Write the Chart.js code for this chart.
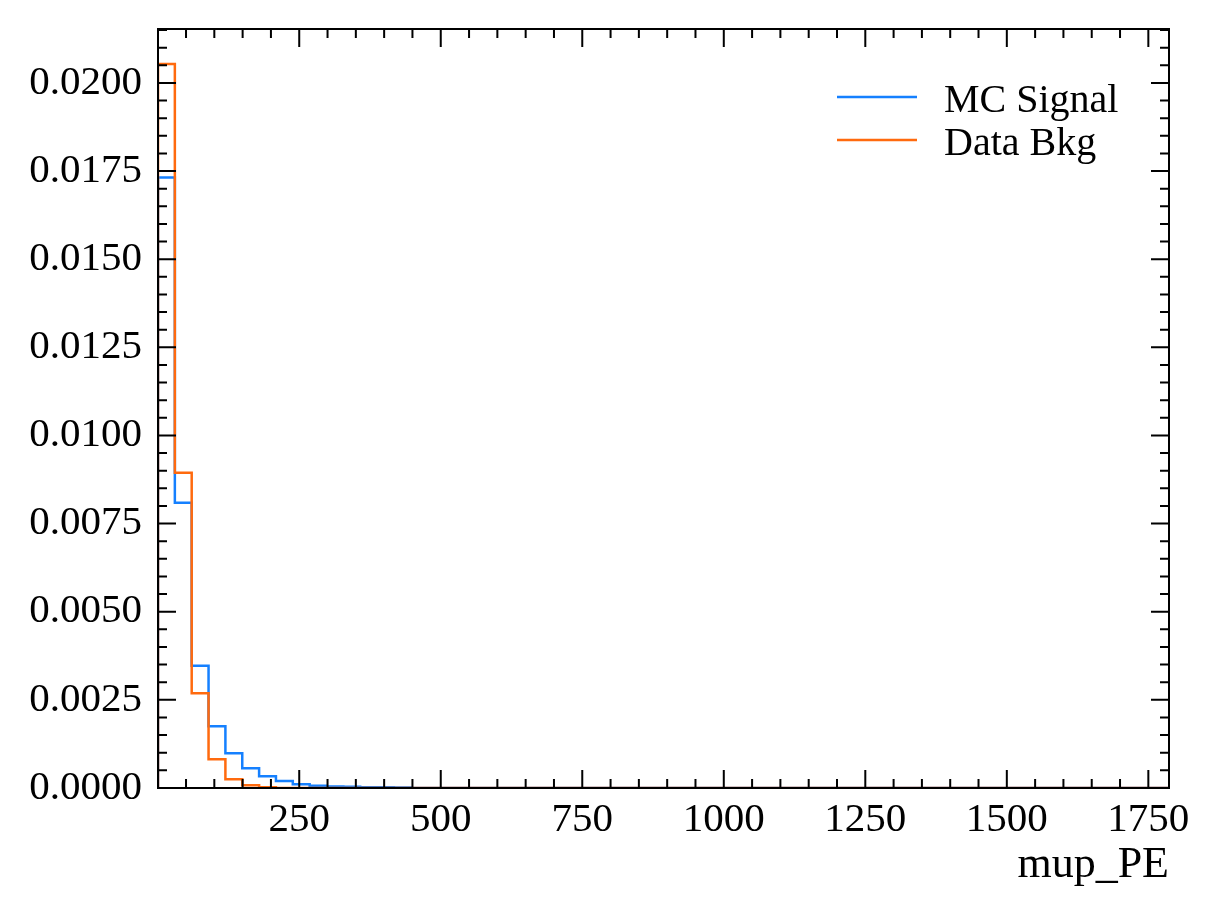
<!DOCTYPE html>
<html>
<head>
<meta charset="utf-8">
<script src="https://cdn.jsdelivr.net/npm/chart.js@4.4.1/dist/chart.umd.min.js"></script>
<style>
  html, body { margin: 0; padding: 0; background: #fff; }
  #wrap { width: 1218px; height: 917px; }
</style>
</head>
<body>
<div id="wrap"><canvas id="chart" width="1218" height="917"></canvas></div>
<script>
// histogram binning (60 bins over the data range)
const xMin = 0.5;
const xMax = 1786.5;
const nBins = 60;
const yMax = 0.02153;

const seriesLabels = ['MC Signal', 'Data Bkg'];
const seriesColors = ['#1580ff', '#ff6a0e'];

// normalised counts per bin (bins not listed are 0)
const mcSignal = [0.01732, 0.00809, 0.003466, 0.00175, 0.000985, 0.00056, 0.00033, 0.0002,
  0.000105, 0.000065, 0.00004, 0.000035, 0.00002, 0.00002, 0.000015];
const dataBkg = [0.02054, 0.00894, 0.00269, 0.000815, 0.000247, 0.000077, 0.00002];

const xMajorTicks = [250, 500, 750, 1000, 1250, 1500, 1750];
const yMajorStep = 0.0025;
const xMinorStep = 50;
const yMinorStep = 0.0005;

const serif = 'Liberation Serif';

function stepPoints(values) {
  const w = (xMax - xMin) / nBins;
  const pts = [{ x: xMin, y: 0 }];
  for (let i = 0; i < nBins; i++) {
    pts.push({ x: xMin + i * w, y: values[i] || 0 });
  }
  pts.push({ x: xMax, y: 0 });
  return pts;
}

// inward ticks on all four sides + frame, matplotlib style
const frameTicks = {
  id: 'frameTicks',
  afterDatasetsDraw(chart) {
    const { ctx, chartArea: a, scales: { x, y } } = chart;
    ctx.save();
    ctx.strokeStyle = '#000';
    ctx.lineWidth = 2;
    ctx.beginPath();
    const xs = (v, len) => {
      const px = x.getPixelForValue(v);
      ctx.moveTo(px, a.bottom); ctx.lineTo(px, a.bottom - len);
      ctx.moveTo(px, a.top); ctx.lineTo(px, a.top + len);
    };
    const ys = (v, len) => {
      const py = y.getPixelForValue(v);
      ctx.moveTo(a.left, py); ctx.lineTo(a.left + len, py);
      ctx.moveTo(a.right, py); ctx.lineTo(a.right - len, py);
    };
    for (let v = Math.ceil(x.min / xMinorStep) * xMinorStep; v <= x.max; v += xMinorStep) {
      xs(v, v % 250 === 0 ? 18 : 9);
    }
    for (let k = 0; k * yMinorStep <= y.max; k++) {
      ys(k * yMinorStep, k % 5 === 0 ? 18 : 9);
    }
    ctx.stroke();
    ctx.strokeRect(a.left, a.top, a.right - a.left, a.bottom - a.top);
    ctx.restore();
  },
  afterDraw(chart) {
    const ctx = chart.ctx;
    ctx.save();
    ctx.font = '40px "' + serif + '"';
    ctx.textBaseline = 'alphabetic';
    ctx.fillStyle = '#000';
    chart.data.datasets.forEach((ds, i) => {
      const ly = 97 + i * 43;
      ctx.strokeStyle = ds.borderColor;
      ctx.lineWidth = 2.5;
      ctx.beginPath();
      ctx.moveTo(837, ly);
      ctx.lineTo(917, ly);
      ctx.stroke();
      ctx.fillText(ds.label, 944, ly + 14.5);
    });
    ctx.restore();
  }
};

const tickFont = { family: serif, size: 41 };

new Chart(document.getElementById('chart'), {
  type: 'line',
  data: {
    datasets: [
      {
        label: seriesLabels[0],
        data: stepPoints(mcSignal),
        borderColor: seriesColors[0],
        borderWidth: 2.5,
        stepped: true,
        pointRadius: 0,
        fill: false,
        order: 1
      },
      {
        label: seriesLabels[1],
        data: stepPoints(dataBkg),
        borderColor: seriesColors[1],
        borderWidth: 2.5,
        stepped: true,
        pointRadius: 0,
        fill: false,
        order: 0
      }
    ]
  },
  options: {
    responsive: false,
    animation: false,
    layout: { padding: { top: 29, right: 49, left: 0, bottom: 0 } },
    plugins: { legend: { display: false }, tooltip: { enabled: false } },
    scales: {
      x: {
        type: 'linear',
        min: xMin,
        max: xMax,
        afterBuildTicks: s => { s.ticks = xMajorTicks.map(v => ({ value: v })); },
        afterFit: s => { s.height = 129; s.paddingLeft = 0; s.paddingRight = 0; },
        ticks: { autoSkip: false, maxRotation: 0, padding: 8, font: tickFont, color: '#000',
          callback: v => String(v) },
        grid: { display: false, drawTicks: false },
        border: { display: false },
        title: { display: true, text: 'mup_PE', align: 'end', font: { family: serif, size: 44 }, color: '#000',
          padding: { top: 0, bottom: 25 } }
      },
      y: {
        type: 'linear',
        min: 0,
        max: yMax,
        afterFit: s => { s.width = 158; s.paddingTop = 0; s.paddingBottom = 0; },
        ticks: { stepSize: yMajorStep, includeBounds: false, padding: 16, font: tickFont, color: '#000',
          callback: v => v.toFixed(4) },
        grid: { display: false, drawTicks: false },
        border: { display: false }
      }
    }
  },
  plugins: [frameTicks]
});
</script>
</body>
</html>
